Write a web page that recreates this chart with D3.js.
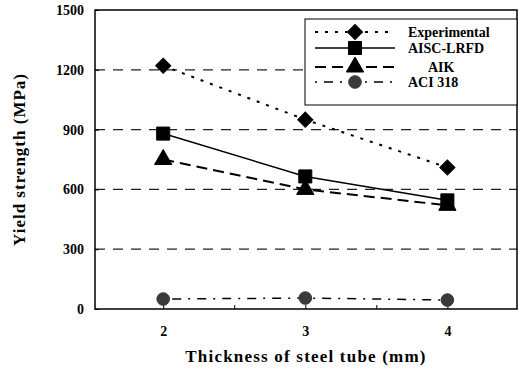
<!DOCTYPE html>
<html>
<head>
<meta charset="utf-8">
<script src="https://cdn.jsdelivr.net/npm/d3@7"></script>
<style>
  body { margin: 0; background: #fff; }
  text { font-family: 'Liberation Serif', 'Times New Roman', serif; font-weight: bold; fill: #000; }
</style>
</head>
<body>
<script>
// chart values
const thickness = [2, 3, 4]
const seriesNames = ['Experimental', 'AISC-LRFD', 'AIK', 'ACI 318']
const experimental = [1220, 950, 710]
const aiscLrfd = [880, 665, 545]
const aik = [750, 600, 520]
const aci318 = [50, 55, 45]
const yTicks = [0, 300, 600, 900, 1200, 1500]

const width = 519
const height = 372
const svg = d3.select('body').append('svg').attr('width', width).attr('height', height)

const x = d3.scaleLinear().domain([1.52, 4.49]).range([95, 517])
const y = d3.scaleLinear().domain([0, 1500]).range([309, 10])

// dashed grid lines
svg.selectAll('.grid')
	.data(yTicks.filter(d => d > 0 && d < 1500))
	.enter()
	.append('line')
	.attr('x1', x.range()[0])
	.attr('x2', x.range()[1])
	.attr('y1', d => y(d))
	.attr('y2', d => y(d))
	.attr('stroke', '#222')
	.attr('stroke-width', 1.2)
	.attr('stroke-dasharray', '10,8')

// frame
svg.append('rect')
	.attr('x', x.range()[0])
	.attr('y', y.range()[1])
	.attr('width', x.range()[1] - x.range()[0])
	.attr('height', y.range()[0] - y.range()[1])
	.attr('fill', 'none')
	.attr('stroke', '#000')
	.attr('stroke-width', 1.5)

// y axis
const yAxis = d3.axisLeft(y).tickValues(yTicks).tickSize(-4).tickPadding(11).tickFormat(d3.format('d'))
const gy = svg.append('g').attr('transform', `translate(${x.range()[0]},0)`).call(yAxis)
gy.select('.domain').remove()
gy.selectAll('text').style('font-size', '14px')

// x axis, minor ticks between the labels
const xAxis = d3.axisBottom(x).tickValues([2, 2.5, 3, 3.5, 4]).tickSize(-4).tickPadding(17)
	.tickFormat(d => (Number.isInteger(d) ? d : ''))
const gx = svg.append('g').attr('transform', `translate(0,${y.range()[0]})`).call(xAxis)
gx.select('.domain').remove()
gx.selectAll('text').style('font-size', '14px')

// axis titles
svg.append('text')
	.attr('transform', `translate(25,${(y.range()[0] + y.range()[1]) / 2}) rotate(-90)`)
	.attr('text-anchor', 'middle')
	.style('font-size', '17px')
	.style('letter-spacing', '1px')
	.text('Yield strength (MPa)')
svg.append('text')
	.attr('x', (x.range()[0] + x.range()[1]) / 2)
	.attr('y', 362)
	.attr('text-anchor', 'middle')
	.style('font-size', '17px')
	.style('letter-spacing', '1.2px')
	.text('Thickness of steel tube (mm)')

// series styles
const styles = [
	{ dash: '3,7', width: 2, symbol: d3.symbolSquare, size: 115, rot: 45, fill: '#000' },
	{ dash: null, width: 1.5, symbol: d3.symbolSquare, size: 170, rot: 0, fill: '#000' },
	{ dash: '11,6', width: 2, symbol: d3.symbolTriangle, size: 130, rot: 0, fill: '#000' },
	{ dash: '2,7,9,7', width: 1.5, symbol: d3.symbolCircle, size: 125, rot: 0, fill: '#3a3a3a' },
]
const allSeries = [experimental, aiscLrfd, aik, aci318]

const line = d3.line().x((d, i) => x(thickness[i])).y(d => y(d))

allSeries.forEach(function (values, s) {
	const st = styles[s]
	svg.append('path')
		.datum(values)
		.attr('d', line)
		.attr('fill', 'none')
		.attr('stroke', '#000')
		.attr('stroke-width', st.width)
		.attr('stroke-dasharray', st.dash)

	svg.selectAll(`.m${s}`)
		.data(values)
		.enter()
		.append('path')
		.attr('d', d3.symbol().type(st.symbol).size(st.size))
		.attr('transform', (d, i) => `translate(${x(thickness[i])},${y(d)}) rotate(${st.rot})`)
		.attr('fill', st.fill)
		.attr('stroke', st.fill)
})

// legend
const legend = svg.append('g')
legend.append('rect')
	.attr('x', 305).attr('y', 19)
	.attr('width', 212).attr('height', 86)
	.attr('fill', '#fff')
	.attr('stroke', '#000')
	.attr('stroke-width', 1)

const rowY = [32, 48, 67, 82]
seriesNames.forEach(function (name, s) {
	const st = styles[s]
	const g = legend.append('g').attr('transform', `translate(0,${rowY[s]})`)
	g.append('line')
		.attr('x1', 315).attr('x2', 395)
		.attr('stroke', '#000')
		.attr('stroke-width', st.width)
		.attr('stroke-dasharray', st.dash)
	g.append('path')
		.attr('d', d3.symbol().type(st.symbol).size(st.size))
		.attr('transform', `translate(355,0) rotate(${st.rot})`)
		.attr('fill', st.fill)
		.attr('stroke', st.fill)
	g.append('text')
		.attr('x', name === 'AIK' ? 428 : 408)
		.attr('dy', '0.35em')
		.style('font-size', '14px')
		.text(name)
})
</script>
</body>
</html>
